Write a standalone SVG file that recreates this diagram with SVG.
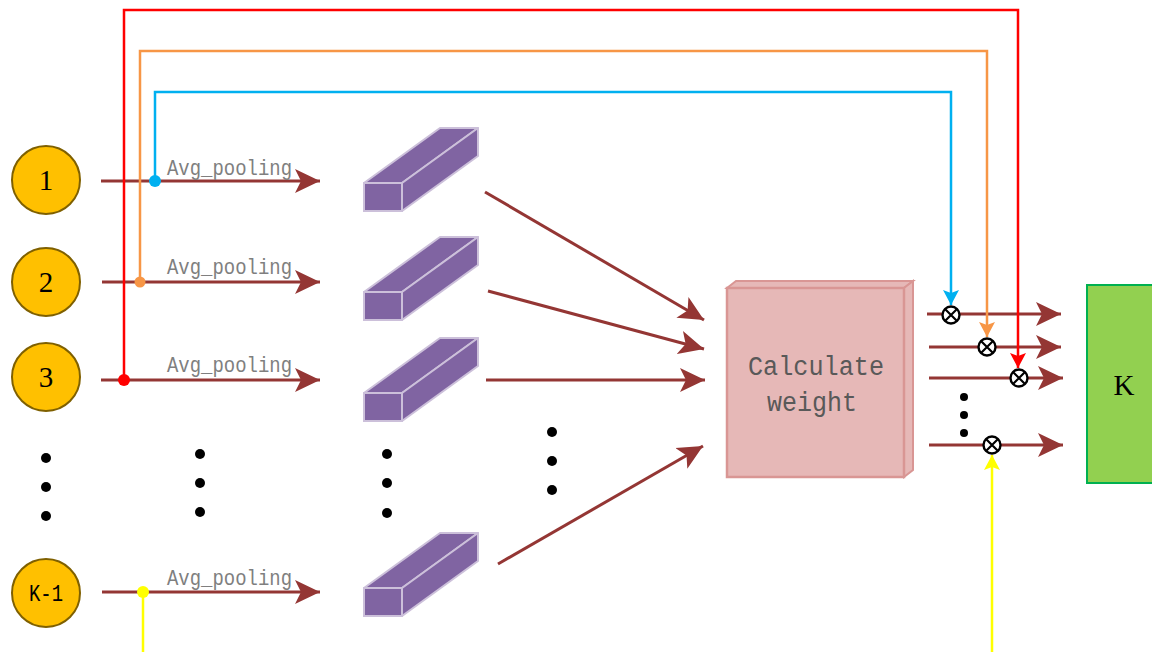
<svg xmlns="http://www.w3.org/2000/svg" width="1152" height="652" viewBox="0 0 1152 652">
  <style>
    .in { fill: #FFC000; stroke: #7F6000; stroke-width: 2; }
    .num { font-family: "Liberation Serif", serif; font-size: 29px; fill: #000; text-anchor: middle; }
    .lbl { font-family: "Liberation Mono", monospace; font-size: 22px; fill: #7F7F7F; }
    .flow { stroke: #943634; stroke-width: 3; fill: none; }
    .dot { fill: #000; }
  </style>
  <defs>
    <marker id="ah" markerUnits="userSpaceOnUse" markerWidth="26" markerHeight="26" viewBox="0 0 26 26" refX="25" refY="13" orient="auto">
      <path d="M0,1 L25,13 L0,25 L6,13 Z" fill="#943634"/>
    </marker>
    <marker id="ahBlue" markerUnits="userSpaceOnUse" markerWidth="16" markerHeight="16" viewBox="0 0 16 16" refX="15" refY="8" orient="auto">
      <path d="M0,0 L15,8 L0,16 L3,8 Z" fill="#00B0F0"/>
    </marker>
    <marker id="ahOrange" markerUnits="userSpaceOnUse" markerWidth="16" markerHeight="16" viewBox="0 0 16 16" refX="15" refY="8" orient="auto">
      <path d="M0,0 L15,8 L0,16 L3,8 Z" fill="#F79646"/>
    </marker>
    <marker id="ahRed" markerUnits="userSpaceOnUse" markerWidth="16" markerHeight="16" viewBox="0 0 16 16" refX="15" refY="8" orient="auto">
      <path d="M0,0 L15,8 L0,16 L3,8 Z" fill="#FF0000"/>
    </marker>
    <marker id="ahYellow" markerUnits="userSpaceOnUse" markerWidth="16" markerHeight="16" viewBox="0 0 16 16" refX="15" refY="8" orient="auto">
      <path d="M0,0 L15,8 L0,16 L3,8 Z" fill="#FFFF00"/>
    </marker>
    <g id="bar">
      <path d="M0,28 L0,0 L76,-55 L114,-55 L38,0 L38,28 Z" fill="#8064A2" stroke="#CCC0DA" stroke-width="2" stroke-linejoin="round"/>
      <path d="M38,0 L114,-55 L114,-27 L38,28 Z" fill="#8064A2" stroke="#CCC0DA" stroke-width="2" stroke-linejoin="round"/>
      <rect x="0" y="0" width="38" height="28" fill="#8064A2" stroke="#CCC0DA" stroke-width="2"/>
    </g>
    <g id="otimes">
      <circle cx="0" cy="0" r="8.5" fill="#fff" stroke="#000" stroke-width="2.4"/>
      <path d="M-6,-6 L6,6 M-6,6 L6,-6" stroke="#000" stroke-width="2.2"/>
    </g>
  </defs>

  <!-- connectors -->
  <g id="connectors">
    <!-- pooling arrows -->
    <line class="flow" x1="101" y1="181" x2="320" y2="181" marker-end="url(#ah)"/>
    <line class="flow" x1="102" y1="282" x2="320" y2="282" marker-end="url(#ah)"/>
    <line class="flow" x1="101" y1="380" x2="320" y2="380" marker-end="url(#ah)"/>
    <line class="flow" x1="102" y1="592" x2="320" y2="592" marker-end="url(#ah)"/>

    <!-- bars into weight block -->
    <line class="flow" x1="485" y1="192" x2="704" y2="320" marker-end="url(#ah)"/>
    <line class="flow" x1="488" y1="291" x2="704" y2="349" marker-end="url(#ah)"/>
    <line class="flow" x1="486" y1="380" x2="705" y2="380" marker-end="url(#ah)"/>
    <line class="flow" x1="498" y1="564" x2="703" y2="446" marker-end="url(#ah)"/>

    <!-- weighted outputs to K -->
    <line class="flow" x1="927" y1="314" x2="1061" y2="314" marker-end="url(#ah)"/>
    <line class="flow" x1="929" y1="347" x2="1061" y2="347" marker-end="url(#ah)"/>
    <line class="flow" x1="929" y1="378" x2="1063" y2="378" marker-end="url(#ah)"/>
    <line class="flow" x1="929" y1="445" x2="1063" y2="445" marker-end="url(#ah)"/>

    <!-- skip paths -->
    <polyline points="124,380 124,10 1018,10 1018,368" fill="none" stroke="#FF0000" stroke-width="2.5" marker-end="url(#ahRed)"/>
    <polyline points="140,282 140,51 987,51 987,337" fill="none" stroke="#F79646" stroke-width="2.5" marker-end="url(#ahOrange)"/>
    <polyline points="155,181 155,92 951,92 951,305" fill="none" stroke="#00B0F0" stroke-width="2.5" marker-end="url(#ahBlue)"/>
    <line x1="143" y1="592" x2="143" y2="652" stroke="#FFFF00" stroke-width="2.5"/>
    <line x1="992" y1="652" x2="992" y2="455" stroke="#FFFF00" stroke-width="2.5" marker-end="url(#ahYellow)"/>

    <!-- junction dots -->
    <circle cx="155" cy="181" r="6" fill="#00B0F0"/>
    <circle cx="140" cy="282" r="5.5" fill="#F79646"/>
    <circle cx="124" cy="380" r="6" fill="#FF0000"/>
    <circle cx="143" cy="592" r="6" fill="#FFFF00"/>
  </g>

  <!-- pooling labels -->
  <g id="labels">
    <text class="lbl" x="167" y="175" textLength="125" lengthAdjust="spacingAndGlyphs">Avg_pooling</text>
    <text class="lbl" x="167" y="274" textLength="125" lengthAdjust="spacingAndGlyphs">Avg_pooling</text>
    <text class="lbl" x="167" y="372" textLength="125" lengthAdjust="spacingAndGlyphs">Avg_pooling</text>
    <text class="lbl" x="167" y="585" textLength="125" lengthAdjust="spacingAndGlyphs">Avg_pooling</text>
  </g>

  <!-- input nodes -->
  <g id="node-1"><circle class="in" cx="46" cy="180" r="34"/><text class="num" x="46" y="190">1</text></g>
  <g id="node-2"><circle class="in" cx="46" cy="282" r="34"/><text class="num" x="46" y="292">2</text></g>
  <g id="node-3"><circle class="in" cx="46" cy="377" r="34"/><text class="num" x="46" y="387">3</text></g>
  <g id="node-k1"><circle class="in" cx="46" cy="593" r="34"/><text x="46" y="601" font-family="Liberation Mono, monospace" font-size="23" text-anchor="middle" fill="#000" textLength="34" lengthAdjust="spacingAndGlyphs">K-1</text></g>

  <!-- pooled bars -->
  <g id="bar-1"><use href="#bar" x="364" y="183"/></g>
  <g id="bar-2"><use href="#bar" x="364" y="292"/></g>
  <g id="bar-3"><use href="#bar" x="364" y="393"/></g>
  <g id="bar-k1"><use href="#bar" x="364" y="588"/></g>

  <!-- ellipsis dots -->
  <g id="ellipses">
    <circle class="dot" cx="46" cy="458" r="5"/><circle class="dot" cx="46" cy="487" r="5"/><circle class="dot" cx="46" cy="516" r="5"/>
    <circle class="dot" cx="200" cy="454" r="5"/><circle class="dot" cx="200" cy="483" r="5"/><circle class="dot" cx="200" cy="512" r="5"/>
    <circle class="dot" cx="387" cy="454" r="5"/><circle class="dot" cx="387" cy="483" r="5"/><circle class="dot" cx="387" cy="513" r="5"/>
    <circle class="dot" cx="552" cy="432" r="5"/><circle class="dot" cx="552" cy="461" r="5"/><circle class="dot" cx="552" cy="490" r="5"/>
    <circle class="dot" cx="964" cy="397" r="4"/><circle class="dot" cx="964" cy="415" r="4"/><circle class="dot" cx="964" cy="433" r="4"/>
  </g>

  <!-- weight calculation block -->
  <g id="calc-weight">
    <path d="M727,288 L736,281 L913,281 L904,288 Z" fill="#E6B8B7" stroke="#D99694" stroke-width="2"/>
    <path d="M904,288 L913,281 L913,470 L904,477 Z" fill="#E6B8B7" stroke="#D99694" stroke-width="2"/>
    <rect x="727" y="288" width="177" height="189" fill="#E6B8B7" stroke="#D99694" stroke-width="2.5"/>
    <text x="816" y="375" font-family="Liberation Mono, monospace" font-size="27" fill="#595959" text-anchor="middle" textLength="136" lengthAdjust="spacingAndGlyphs">Calculate</text>
    <text x="812" y="411" font-family="Liberation Mono, monospace" font-size="27" fill="#595959" text-anchor="middle" textLength="90" lengthAdjust="spacingAndGlyphs">weight</text>
  </g>

  <!-- multipliers -->
  <g id="multipliers">
    <use href="#otimes" x="951" y="315"/>
    <use href="#otimes" x="987" y="347"/>
    <use href="#otimes" x="1019" y="378"/>
    <use href="#otimes" x="992" y="445"/>
  </g>

  <!-- output node -->
  <g id="node-k">
    <rect x="1087" y="285" width="70" height="198" fill="#92D050" stroke="#00B050" stroke-width="2"/>
    <text x="1124" y="395" font-family="Liberation Serif, serif" font-size="29" fill="#000" text-anchor="middle">K</text>
  </g>
</svg>
